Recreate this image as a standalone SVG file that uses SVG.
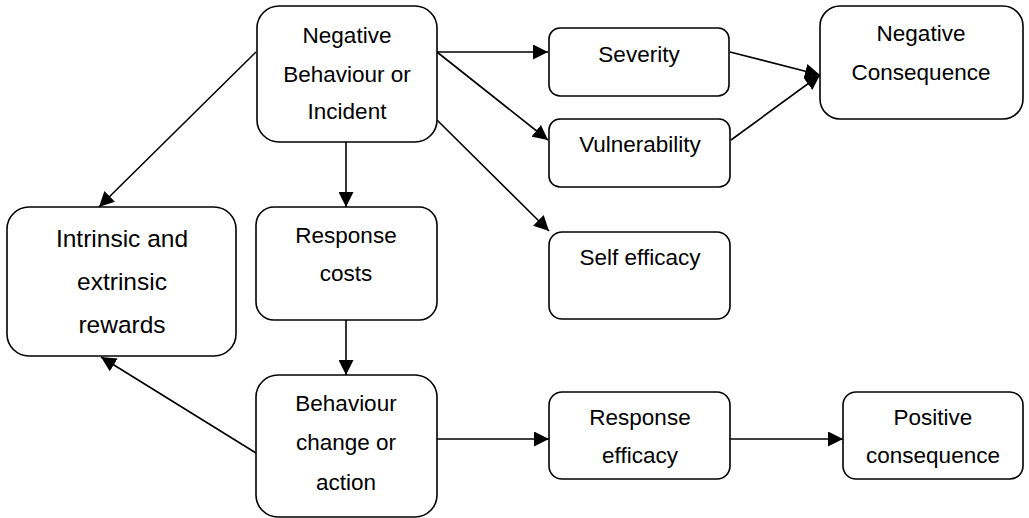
<svg xmlns="http://www.w3.org/2000/svg" width="1029" height="518" viewBox="0 0 1029 518">
  <style>
    .box { fill: #ffffff; stroke: #000000; stroke-width: 1.6; }
    .lbl { font-family: "Liberation Sans", Arial, sans-serif; font-size: 22.5px; fill: #000000; text-anchor: middle; }
    .big { font-size: 24.5px; }
    .link { fill: none; stroke: #000000; stroke-width: 1.6; marker-end: url(#arrow); }
  </style>
  <defs>
    <marker id="arrow" markerUnits="userSpaceOnUse" markerWidth="15" markerHeight="15" viewBox="0 0 15 15" refX="15" refY="7.5" orient="auto">
      <path d="M0,0 L15,7.5 L0,15 Z" fill="#000000"/>
    </marker>
  </defs>

  <g id="connectors">
    <line class="link" x1="437" y1="52" x2="548" y2="52"/>
    <line class="link" x1="437" y1="52" x2="548" y2="140"/>
    <line class="link" x1="437" y1="120" x2="549" y2="231"/>
    <line class="link" x1="730" y1="52" x2="820" y2="75"/>
    <line class="link" x1="731" y1="140" x2="820" y2="75"/>
    <line class="link" x1="256" y1="52" x2="99" y2="207"/>
    <line class="link" x1="346" y1="142" x2="346" y2="207"/>
    <line class="link" x1="346" y1="320" x2="346" y2="375"/>
    <line class="link" x1="256" y1="453" x2="101" y2="357"/>
    <line class="link" x1="437" y1="439" x2="549" y2="439"/>
    <line class="link" x1="730" y1="439" x2="843" y2="439"/>
  </g>

  <g id="negative-behaviour">
    <rect class="box" x="257" y="6" width="180" height="136" rx="22"/>
    <text class="lbl" x="347" y="43">Negative</text>
    <text class="lbl" x="347" y="82">Behaviour or</text>
    <text class="lbl" x="347" y="119">Incident</text>
  </g>

  <g id="severity">
    <rect class="box" x="549" y="28" width="180" height="68" rx="11"/>
    <text class="lbl" x="639" y="62">Severity</text>
  </g>

  <g id="vulnerability">
    <rect class="box" x="549" y="119" width="181" height="68" rx="11"/>
    <text class="lbl" x="640" y="152">Vulnerability</text>
  </g>

  <g id="negative-consequence">
    <rect class="box" x="820" y="6" width="203" height="113" rx="20"/>
    <text class="lbl" x="921" y="41">Negative</text>
    <text class="lbl" x="921" y="80">Consequence</text>
  </g>

  <g id="self-efficacy">
    <rect class="box" x="549" y="232" width="181" height="87" rx="13"/>
    <text class="lbl" x="640" y="265">Self efficacy</text>
  </g>

  <g id="rewards">
    <rect class="box" x="7" y="207" width="229" height="149" rx="22"/>
    <text class="lbl big" x="122" y="247">Intrinsic and</text>
    <text class="lbl big" x="122" y="290">extrinsic</text>
    <text class="lbl big" x="122" y="333">rewards</text>
  </g>

  <g id="response-costs">
    <rect class="box" x="256" y="207" width="181" height="113" rx="18"/>
    <text class="lbl" x="346" y="243">Response</text>
    <text class="lbl" x="346" y="281">costs</text>
  </g>

  <g id="behaviour-change">
    <rect class="box" x="256" y="375" width="181" height="142" rx="22"/>
    <text class="lbl" x="346" y="411">Behaviour</text>
    <text class="lbl" x="346" y="450">change or</text>
    <text class="lbl" x="346" y="490">action</text>
  </g>

  <g id="response-efficacy">
    <rect class="box" x="549" y="392" width="181" height="87" rx="13"/>
    <text class="lbl" x="640" y="425">Response</text>
    <text class="lbl" x="640" y="463">efficacy</text>
  </g>

  <g id="positive-consequence">
    <rect class="box" x="843" y="392" width="180" height="87" rx="13"/>
    <text class="lbl" x="933" y="425">Positive</text>
    <text class="lbl" x="933" y="463">consequence</text>
  </g>
</svg>
